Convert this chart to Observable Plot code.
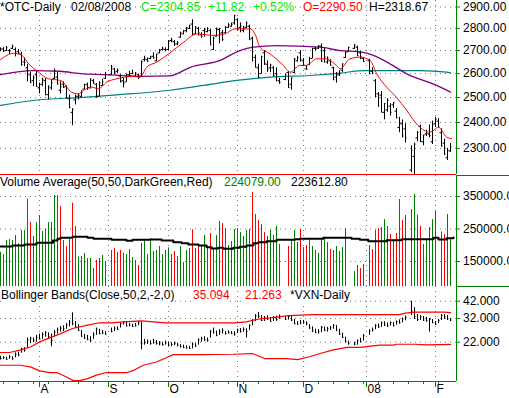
<!DOCTYPE html>
<html>
<head>
<meta charset="utf-8">
<script src="https://cdn.jsdelivr.net/npm/d3@7"></script>
<script src="https://cdn.jsdelivr.net/npm/@observablehq/plot@0.6"></script>
<style>
html, body { margin: 0; padding: 0; background: #fff; }
#chart { position: relative; width: 509px; height: 398px; overflow: hidden; background: #fff; font-family: "Liberation Sans", Arial, sans-serif; }
#chart svg { position: absolute; left: 0; }
.lbl { position: absolute; font-size: 12px; line-height: 14px; height: 14px; white-space: pre; background: #fff; }
</style>
</head>
<body>
<div id="chart"></div>
<script>
// ---------- DATA (one slot per weekday, 13 Jul 2007 .. 8 Feb 2008; null = holiday) ----------
const pOpen = [2703,2707,2700,2700,2710,2705,2695,2685,2650,2625,
 2595,2570,2595,2540,2555,2570,2512,2540,2580,2585,
 2530,2555,2545,2495,2440,2490,2505,2505,2535,2555,
 2540,2570,2555,2505,2550,2580,null,2595,2620,2610,
 2590,2570,2565,2595,2600,2590,2595,2590,2660,2660,
 2665,2675,2655,2690,2705,2705,2705,2745,2740,2730,
 2760,2775,2790,2800,2820,2775,2800,2770,2790,2785,
 2790,2705,2765,2795,2780,2780,2805,2810,2825,2840,
 2805,2790,2805,2810,2755,2670,2625,2600,2690,2640,
 2625,2625,2600,2570,null,2575,2605,2555,2605,2655,
 2690,2655,2620,2640,2665,2710,2710,2720,2700,2650,
 2655,2625,2585,2595,2615,2670,2695,null,2710,2715,
 2690,2665,null,2655,2610,2570,2515,2510,2440,2450,
 2465,2470,2445,2380,2395,2375,null,2220,2270,2340,
 2385,2325,2355,2355,2325,2395,2405,2360,2320,2265,
 2290.5];
const pHigh = [2712,2713,2718,2705,2724,2712,2705,2693,2668,2640,
 2605,2590,2610,2560,2580,2578,2548,2575,2620,2605,
 2565,2565,2548,2510,2455,2510,2515,2528,2555,2560,
 2577,2575,2558,2565,2575,2605,null,2635,2622,2620,
 2595,2580,2598,2610,2615,2605,2598,2655,2675,2668,
 2675,2690,2684,2705,2715,2712,2745,2755,2745,2740,
 2783,2790,2805,2815,2840,2808,2805,2780,2800,2803,
 2795,2760,2802,2800,2790,2808,2822,2825,2861,2845,
 2825,2810,2830,2815,2760,2680,2640,2675,2700,2655,
 2640,2630,2625,2580,null,2597,2610,2582,2665,2675,
 2700,2665,2635,2670,2710,2715,2722,2730,2710,2672,
 2660,2628,2605,2612,2642,2693,2715,null,2727,2720,
 2695,2670,null,2662,2625,2575,2520,2525,2475,2495,
 2475,2480,2455,2420,2410,2395,null,2310,2320,2365,
 2390,2350,2370,2390,2405,2420,2415,2375,2335,2300,
 2318.67];
const pLow = [2695,2694,2696,2682,2705,2672,2682,2632,2630,2565,
 2560,2545,2545,2515,2545,2510,2490,2530,2575,2555,
 2515,2540,2495,2455,2387,2470,2490,2500,2530,2530,
 2535,2555,2500,2503,2545,2575,null,2592,2595,2600,
 2560,2540,2563,2585,2595,2585,2575,2585,2650,2650,
 2660,2662,2650,2685,2698,2695,2700,2735,2718,2722,
 2755,2770,2780,2795,2765,2772,2765,2755,2760,2780,
 2725,2700,2760,2730,2740,2775,2800,2805,2815,2790,
 2780,2780,2800,2748,2650,2625,2582,2598,2635,2605,
 2605,2585,2565,2555,null,2570,2540,2530,2600,2650,
 2650,2630,2615,2635,2663,2698,2705,2650,2645,2640,
 2633,2572,2560,2588,2605,2665,2693,null,2705,2675,
 2660,2650,null,2595,2595,2500,2460,2440,2410,2440,
 2425,2455,2415,2360,2340,2320,null,2210,2202,2325,
 2325,2310,2345,2340,2315,2380,2380,2305,2275,2255,
 2285];
const pClose = [2707,2697,2712,2699,2720,2688,2691,2639,2648,2599,
 2562,2583,2546,2554,2576,2511,2547,2562,2613,2556,
 2545,2542,2499,2459,2451,2505,2509,2521,2553,2542,
 2577,2561,2501,2563,2565,2596,null,2630,2606,2614,
 2566,2559,2597,2592,2601,2602,2582,2652,2666,2654,
 2671,2668,2683,2699,2710,2702,2741,2747,2729,2734,
 2780,2787,2804,2812,2772,2806,2780,2764,2793,2799,
 2725,2754,2799,2775,2751,2804,2817,2817,2859,2795,
 2810,2795,2825,2749,2696,2628,2584,2674,2644,2619,
 2637,2593,2597,2562,null,2597,2541,2581,2663,2668,
 2661,2637,2620,2666,2709,2706,2719,2652,2671,2668,
 2636,2574,2596,2601,2641,2692,2714,null,2724,2677,
 2674,2652,null,2610,2603,2505,2499,2441,2475,2489,
 2440,2478,2418,2395,2347,2340,null,2292,2316,2361,
 2326,2350,2358,2349,2390,2413,2383,2310,2279,2293,
 2304.85];

// moving averages on the price panel (read at knots)
const maFastSlot = [0,4.3,7,9.5,12,16,20,23.7,26,27.6,30.4,32.6,35.4,38.7,44.3,46.5,48.7,52,56.5,61,65.4,71,74.8,78.2,83.2,84.8,86.5,89.8,94.3,96.5,99.8,102,105.4,108.2,112,113.2,116.5,119.8,123.2,125.4,128.7,132,135.4,138.2,139.8,143.2,146,148.7,150.4];
const maFast = [2660,2688,2680,2640,2613,2578,2571,2522,2515,2529,2543,2536,2564,2578,2588,2585,2627,2649,2690,2737,2775,2768,2775,2798,2798,2775,2715,2686,2635,2606,2635,2635,2664,2664,2635,2621,2664,2671,2657,2599,2543,2501,2448,2401,2381,2362,2381,2343,2337];
const maMidSlot = [0,10.9,19.8,27.6,35.4,46.5,56.5,63.2,73.2,79.8,84.3,92,106.5,113.2,119.8,124.3,129.8,135.4,145.4,150];
const maMid = [2596,2613,2610,2599,2596,2588,2590,2627,2657,2700,2715,2722,2715,2700,2694,2679,2642,2599,2550,2522];
const maSlowSlot = [0,10.9,27.6,38.7,56.5,67.6,78.7,89.8,103.2,113.2,121,139.8,148.7,150];
const maSlow = [2468,2488,2501,2511,2530,2550,2571,2585,2592,2602,2613,2613,2606,2603];

// volume (null = holiday / below the panel floor)
const volume = [178700,171500,214600,217600,214600,230000,204300,245300,245300,340800,
 270000,226900,270000,291500,242300,250500,270000,270000,353000,353000,
 319200,214600,196100,224800,329500,257700,163300,165300,174600,159200,
 159200,128400,153000,159200,168400,150000,null,183800,190000,177600,
 183800,175600,171500,186900,162200,153000,137600,205300,217600,171500,
 220700,180700,183800,196100,171500,183800,192000,171500,180700,165300,
 196100,146800,183800,190000,247400,190000,199200,196100,230000,196100,
 236100,190000,230000,273000,266900,251500,199200,211500,248400,251500,
 239200,226900,245300,248400,362300,294600,276100,263800,239200,226900,
 245300,230000,257700,202300,null,null,196100,214600,245300,208400,
 248400,193000,199200,217600,196100,183800,174600,217600,223800,208400,
 186900,183800,196100,180700,193000,251500,null,null,119200,137600,
 128400,140700,null,199200,186900,245300,251500,254600,279200,257700,
 233000,211500,236100,340800,276100,291500,null,310000,356200,292500,
 257700,202300,214600,254600,279200,303800,null,241000,233000,294600,
 224079];
const volUp = [1,0,1,0,1,0,1,0,1,0,
 0,0,1,0,1,0,1,1,1,0,
 0,0,0,0,0,1,1,1,1,0,
 1,0,0,1,1,1,null,0,0,1,
 0,0,1,0,1,1,0,1,1,0,
 1,0,1,1,1,0,1,1,0,1,
 1,1,1,1,0,1,0,0,1,1,
 0,1,1,0,0,1,1,0,1,0,
 1,0,1,0,0,0,0,1,0,0,
 1,0,1,0,null,null,0,1,1,1,
 0,0,0,1,1,0,1,0,1,0,
 0,0,1,1,1,1,null,null,1,0,
 0,0,null,0,0,0,0,0,1,1,
 0,1,0,0,0,0,null,0,1,1,
 0,1,1,0,1,1,null,0,0,1,
 1];
const volMaSlot = [0,4,8,12,17.5,19,20,24,29,31,37,42,44,50,53.7,57.6,60.4,62.6,66,68.7,70.4,72.6,74.3,77.6,79.8,82,84.3,86,88.7,92,98.2,99.8,107.6,117,119.8,122.6,128.7,133.7,144.3,146,148.7,151];
const volMa = [196100,199200,202300,207400,214600,219700,222800,225900,222800,219700,216600,213500,216600,217600,214600,209400,206400,202300,199200,194000,189900,192000,188900,192000,195100,199200,206400,209400,212500,216600,218700,219700,222800,219700,216600,212500,215600,218700,222800,217600,221800,223612.8];

// VXN daily high / low / close
const vxHigh = [17.6,17.5,17.4,17.8,17.5,18.6,18.8,20.0,20.2,23.5,
 23.8,23.5,24.5,25.0,25.5,26.0,25.5,25.0,26.5,27.5,
 28.2,28.5,29.5,31.0,35.0,30.5,29.0,26.5,24.8,24.5,
 24.0,25.5,27.5,27.0,26.5,26.0,null,27.5,28.0,28.0,
 29.8,30.5,30.0,29.5,29.2,29.5,30.5,30.0,23.0,22.8,
 22.5,23.0,22.6,22.2,22.0,22.4,22.0,21.8,22.0,21.7,
 21.2,21.0,20.8,20.6,21.8,21.5,23.2,23.8,24.0,23.5,
 26.5,27.5,26.2,26.8,27.2,26.0,26.3,26.0,26.0,27.0,
 27.3,27.6,27.2,29.0,31.5,34.0,35.2,33.5,33.0,33.5,
 32.5,33.0,33.2,33.8,null,33.0,33.5,33.0,31.5,30.5,
 31.0,31.0,30.4,29.0,28.0,27.0,26.8,28.2,28.0,27.8,
 28.2,29.0,28.6,27.0,25.4,23.8,22.4,null,22.0,22.8,
 23.4,24.8,null,26.8,27.5,29.0,29.3,30.2,30.4,29.8,
 30.3,30.0,30.8,31.3,32.3,33.3,null,42.0,38.0,34.0,
 33.5,33.0,32.5,32.0,31.5,30.5,31.5,34.0,34.0,33.5,
 32.0];
const vxLow = [16.6,16.7,16.5,16.8,16.6,17.2,17.5,18.5,18.8,20.0,
 21.5,21.8,22.0,22.8,23.0,23.8,23.0,20.5,24.0,25.0,
 25.8,26.0,27.0,28.0,28.5,27.5,26.0,23.8,23.0,22.5,
 22.0,23.0,24.5,24.8,24.8,24.5,null,25.5,26.0,26.5,
 27.5,28.8,28.0,28.0,27.8,28.0,28.5,19.5,21.0,21.2,
 21.0,21.3,21.0,20.8,20.7,21.0,20.6,20.5,20.8,20.5,
 20.1,19.9,19.8,19.6,19.8,20.3,21.0,22.0,22.3,22.0,
 23.5,25.0,24.0,24.5,25.0,24.6,25.0,24.8,24.2,25.2,
 25.4,25.8,23.5,26.5,28.5,30.5,32.0,30.5,30.5,31.0,
 30.0,30.5,30.6,31.5,null,31.0,31.2,30.5,29.0,28.8,
 29.0,29.2,28.5,27.0,25.8,25.3,25.0,25.6,26.0,25.8,
 26.5,27.0,26.0,24.6,23.4,21.8,21.0,null,20.8,21.0,
 21.8,22.4,null,24.5,25.8,26.8,27.4,27.8,28.2,27.8,
 28.4,28.0,28.8,29.3,29.8,30.8,null,33.5,31.5,30.5,
 31.0,30.5,30.2,25.8,29.5,28.8,29.5,31.0,31.5,31.0,
 30.5];
const vxClose = [17.0,17.3,16.8,17.5,16.9,18.2,18.0,19.8,19.3,22.8,
 23.4,22.5,23.8,23.2,24.8,25.6,24.0,22.6,25.8,26.8,
 27.5,27.2,29.0,30.2,29.5,28.0,26.5,24.2,23.5,23.0,
 22.5,24.8,27.0,25.2,25.5,25.0,null,26.2,27.5,27.0,
 29.5,30.0,28.5,28.8,28.2,28.5,29.8,21.5,21.8,22.2,
 21.6,22.0,21.6,21.4,21.2,21.8,21.0,21.2,21.5,21.0,
 20.5,20.3,20.1,19.9,21.4,20.7,22.8,23.4,22.8,22.6,
 26.2,25.8,24.6,26.0,26.6,25.2,25.6,25.3,25.0,26.6,
 26.0,27.0,26.0,28.6,31.0,33.3,33.0,31.0,32.3,31.8,
 30.6,32.5,31.4,33.2,null,31.5,33.0,31.2,29.5,29.2,
 29.8,30.2,29.4,27.5,26.2,25.6,25.8,27.8,26.5,27.2,
 27.6,28.6,26.6,25.0,23.8,22.2,21.5,null,21.3,22.5,
 22.2,24.4,null,26.3,26.8,28.6,28.0,29.8,28.8,28.5,
 30.0,28.5,30.3,29.9,31.8,32.5,null,36.0,33.0,31.5,
 32.8,31.2,30.8,31.5,30.0,29.2,31.0,33.5,33.0,31.8,
 31.2];
const bbUpperSlot = [0,3,6.5,10,13,20,24,29,33,37,41,47,55,66,78,82,84,87,90,96,104,111,133,135,138,148,150];
const bbUpper = [18.7,18.7,19.4,20.4,22.1,25.2,27.3,28.8,29.9,29.8,30.3,30.8,29.8,29.8,29.8,30.3,31.1,31.9,32.3,33.5,34.0,34.0,34.0,34.8,35.4,35.4,35.094];
const bbLowerSlot = [0,6.5,10,13,16.5,19,22,24.3,26.5,29,32,35,42,44.3,47.6,52,55.4,57.6,66.5,77.6,84,88,95.5,99,103,106.5,111,115.5,120,123.3,126.5,131,132,138,142,150];
const bbLower = [15.3,15.3,14.9,14.0,13.6,13.6,12.7,12.0,12.0,12.4,13.1,13.6,13.6,14.1,15.3,16.1,17.3,18.1,18.1,18.2,18.4,17.0,17.0,16.7,17.5,18.4,19.5,20.3,20.3,20.7,21.0,21.0,21.3,21.3,21.1,21.263];

// axes
const priceTicks = [2900, 2800, 2700, 2600, 2500, 2400, 2300];
const volTicks = [350000, 250000, 150000];
const vxTicks = [42, 32, 22];
const monthSlots = [13, 36, 56, 79, 101, 122, 145];
const monthLabels = ["A", "S", "O", "N", "D", "08", "F"];
const mondaySlots = [1,6,11,16,21,26,31,36,41,46,51,56,61,66,71,76,81,86,91,96,101,106,111,116,121,126,131,136,141,146];

// ---------- BUILD ----------
const chart = document.getElementById("chart");
const X_MAX = 152, X_EDGE = 152 + 53 / 3;
const FONT = "'Liberation Sans', Arial, sans-serif";
const GRID = {stroke: "#7a7a7a", strokeWidth: 1, strokeDasharray: "1,4"};
const zip = (xs, ys) => xs.map((s, k) => ({s, v: ys[k]}));

const slots = d3.range(pClose.length);
const bars = slots.filter(i => pClose[i] != null).map(i => ({i, o: pOpen[i], h: pHigh[i], l: pLow[i], c: pClose[i]}));
const vols = slots.filter(i => volume[i] != null).map(i => ({i, v: volume[i], up: volUp[i] === 1}));
const vx = slots.filter(i => vxClose[i] != null).map(i => ({i, h: vxHigh[i], l: vxLow[i], c: vxClose[i]}));

const P_DOM = [2203.7, 2931];
const V_DOM = [73077, 414615];
const X_DOM_VX = [11.84, 52.96];

function addPanel(top, height, marginBottom, y, marks) {
  const svg = Plot.plot({
    width: 509, height, marginLeft: 0, marginRight: 53, marginTop: 0, marginBottom,
    x: {domain: [0, X_MAX], axis: null},
    y: {...y, axis: null},
    style: {background: "transparent", overflow: "visible", fontFamily: FONT, fontSize: "12px"},
    marks
  });
  svg.style.position = "absolute";
  svg.style.top = top + "px";
  svg.style.left = "0px";
  svg.style.maxWidth = "none";
  chart.appendChild(svg);
}
function rightAxis(ticks, fmt, yTop) {
  const m = [
    Plot.ruleX([X_MAX], {stroke: "#008000"}),
    Plot.ruleY(ticks, {x1: X_MAX, x2: X_MAX + 4 / 3, stroke: "#008000"}),
    Plot.text(ticks, {y: d => d, text: fmt, frameAnchor: "right", textAnchor: "start", dx: 6.5, fill: "black", fontSize: 12})
  ];
  if (yTop != null) m.push(Plot.ruleY([yTop], {x1: X_MAX, x2: X_EDGE, stroke: "#008000"}));
  return m;
}
function ohlc(rows, withOpen) {
  const m = [
    Plot.ruleX(rows, {x: "i", y1: "l", y2: "h", stroke: "black"}),
    Plot.ruleY(rows, {y: "c", x1: "i", x2: d => d.i + 0.5, stroke: "black"})
  ];
  if (withOpen) m.push(Plot.ruleY(rows, {y: "o", x1: d => d.i - 0.5, x2: "i", stroke: "black"}));
  return m;
}

// price panel
addPanel(0, 175, 1, {type: "log", domain: P_DOM}, [
  Plot.ruleY(priceTicks, GRID),
  Plot.ruleX(monthSlots, GRID),
  Plot.line(zip(maSlowSlot, maSlow), {x: "s", y: "v", stroke: "#008080", strokeWidth: 1.2, curve: "monotone-x"}),
  Plot.line(zip(maMidSlot, maMid), {x: "s", y: "v", stroke: "#800080", strokeWidth: 1.3, curve: "monotone-x"}),
  ...ohlc(bars, true),
  Plot.line(zip(maFastSlot, maFast), {x: "s", y: "v", stroke: "#ff0000", strokeWidth: 1, curve: "monotone-x"}),
  Plot.ruleY([P_DOM[0]], {stroke: "#ff0000"}),
  ...rightAxis(priceTicks, d => d.toFixed(2), null)
]);

// volume panel
addPanel(175, 111, 0, {domain: V_DOM}, [
  Plot.ruleY(volTicks, GRID),
  Plot.ruleX(monthSlots, GRID),
  Plot.ruleX(vols.filter(d => d.up), {x: "i", y1: V_DOM[0], y2: "v", stroke: "#008000"}),
  Plot.ruleX(vols.filter(d => !d.up), {x: "i", y1: V_DOM[0], y2: "v", stroke: "#ff0000"}),
  Plot.line(zip(volMaSlot, volMa), {x: "s", y: "v", stroke: "black", strokeWidth: 2, curve: "step-after"}),
  ...rightAxis(volTicks, d => d.toFixed(2), V_DOM[1])
]);

// Bollinger / VXN panel
addPanel(286, 112, 17, {type: "log", domain: X_DOM_VX}, [
  Plot.ruleY(vxTicks, GRID),
  Plot.ruleX(monthSlots, GRID),
  ...ohlc(vx, false),
  Plot.line(zip(bbUpperSlot, bbUpper), {x: "s", y: "v", stroke: "#ff0000", strokeWidth: 1.2}),
  Plot.line(zip(bbLowerSlot, bbLower), {x: "s", y: "v", stroke: "#ff0000", strokeWidth: 1.2}),
  Plot.ruleY([X_DOM_VX[0]], {stroke: "#008000"}),
  Plot.ruleX(mondaySlots, {x: d => d, insetTop: 95, insetBottom: -3, stroke: "#008000"}),
  Plot.ruleX(monthSlots, {x: d => d, insetTop: 95, insetBottom: -6, stroke: "#008000"}),
  Plot.text(monthLabels, {x: (d, k) => monthSlots[k], text: d => d, frameAnchor: "bottom", dy: 11, dx: 1, textAnchor: "start", fontSize: 12, fill: "black"}),
  ...rightAxis(vxTicks, d => d.toFixed(3), X_DOM_VX[1])
]);

// ---------- TITLES ----------
function addTitle(top, parts) {
  for (const [text, left, color] of parts) {
    const el = document.createElement("div");
    el.className = "lbl";
    el.textContent = text;
    el.style.left = left + "px";
    el.style.top = top + "px";
    el.style.color = color;
    chart.appendChild(el);
  }
}
addTitle(0, [["*OTC-Daily", 0, "#000"], ["02/08/2008", 71, "#000"], ["C=2304.85", 141, "#00e600"],
  ["+11.82", 208, "#00e600"], ["+0.52%", 253, "#00e600"], ["O=2290.50", 303, "#ff0000"], ["H=2318.67", 369, "#000"]]);
addTitle(175, [["Volume Average(50,50,DarkGreen,Red)", 0, "#000"], ["224079.00", 224, "#008000"], ["223612.80", 291, "#000"]]);
addTitle(288, [["Bollinger Bands(Close,50,2,-2,0)", 1, "#000"], ["35.094", 193, "#ff0000"], ["21.263", 245, "#ff0000"], ["*VXN-Daily", 290, "#000"]]);
</script>
</body>
</html>
